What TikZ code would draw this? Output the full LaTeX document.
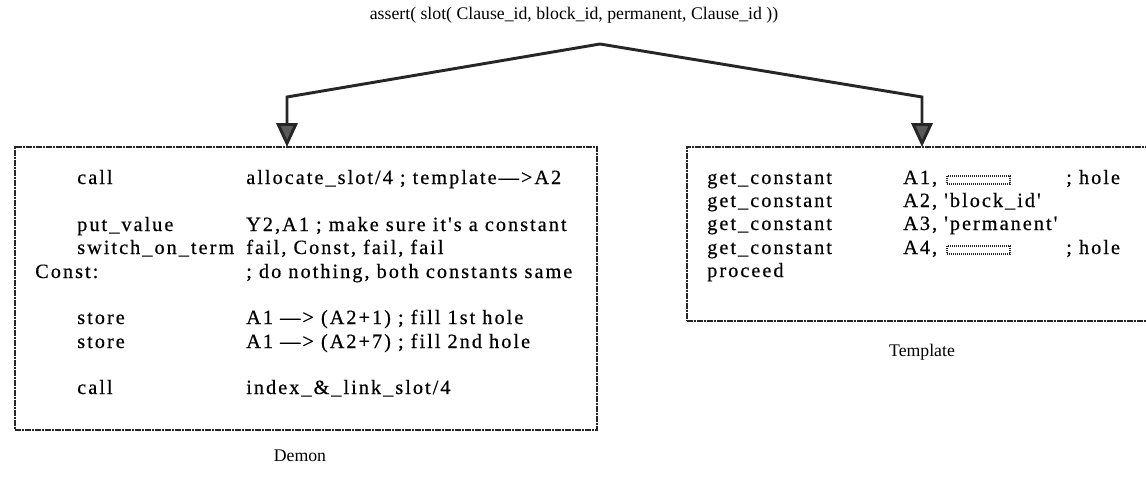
\documentclass[tikz,border=0pt]{standalone}
\usepackage{fontspec}
\setmainfont{Liberation Serif}
\newfontfamily\codefont[LetterSpace=10,FakeBold=0.5]{Liberation Serif}
\usetikzlibrary{arrows.meta}
\tikzset{
	box/.style={draw=black!85, line width=1.5pt, dash pattern=on 2pt off 0.5pt, inner sep=0pt, outer sep=0pt},
	conn/.style={draw=black!85, line width=2.2pt, -{Triangle[width=16pt,length=18pt,fill=black!65]}},
	code/.style={anchor=base west, inner sep=0pt, font=\codefont\fontsize{15.2}{17}\selectfont},
	caption/.style={inner sep=0pt, font=\fontsize{13.3}{15}\selectfont},
	hole/.style={draw=black!85, line width=1.2pt, dash pattern=on 1pt off 0.5pt}
}
\begin{document}
\begin{tikzpicture}[x=0.75pt,y=-0.75pt]
	\useasboundingbox (0,0) rectangle (1146,492);
	\clip (0,0) rectangle (1146,492);
	\node[caption] (assert) at (574,15) {assert( slot( Clause\_id, block\_id, permanent, Clause\_id ))};
	% the two code boxes
	\node[box, minimum width=436.5pt, minimum height=212.25pt] (demon) at (306,288.5) {};
	\node[box, minimum width=348.75pt, minimum height=130.5pt] (template) at (919.5,234) {};
	\node[caption] (demonlbl) at (300,456) {Demon};
	\node[caption] (templatelbl) at (922,352) {Template};
	% connectors
	\coordinate (peak) at (600,44);
	\coordinate (bendL) at (287,97);
	\coordinate (bendR) at (922,97);
	\draw[conn] (peak) -- (bendL) -- (bendL |- demon.north);
	\draw[conn] (peak) -- (bendR) -- (bendR |- template.north);
	% Demon code
	\node[code] (d1a) at (77,184) {call};
	\node[code] (d1b) at (246,184) {allocate\_slot/4 ; template—>A2};
	\node[code] (d2a) at (77,231) {put\_value};
	\node[code] (d2b) at (246,231) {Y2,A1 ; make sure it's a constant};
	\node[code] (d3a) at (77,254) {switch\_on\_term};
	\node[code] (d3b) at (246,254) {fail, Const, fail, fail};
	\node[code] (d4a) at (35,278) {Const:};
	\node[code] (d4b) at (246,278) {; do nothing, both constants same};
	\node[code] (d5a) at (77,324) {store};
	\node[code] (d5b) at (246,324) {A1 —> (A2+1) ; fill 1st hole};
	\node[code] (d6a) at (77,348) {store};
	\node[code] (d6b) at (246,348) {A1 —> (A2+7) ; fill 2nd hole};
	\node[code] (d7a) at (77,394) {call};
	\node[code] (d7b) at (246,394) {index\_\&\_link\_slot/4};
	% Template code
	\node[code] (t1a) at (707,184) {get\_constant};
	\node[code] (t1b) at (903,184) {A1,};
	\draw[hole] (947,176) rectangle (1010,184);
	\node[code] (t1c) at (1066,184) {; hole};
	\node[code] (t2a) at (707,207) {get\_constant};
	\node[code] (t2b) at (903,207) {A2, 'block\_id'};
	\node[code] (t3a) at (707,230) {get\_constant};
	\node[code] (t3b) at (903,230) {A3, 'permanent'};
	\node[code] (t4a) at (707,254) {get\_constant};
	\node[code] (t4b) at (903,254) {A4,};
	\draw[hole] (947,246) rectangle (1010,254);
	\node[code] (t4c) at (1066,254) {; hole};
	\node[code] (t5a) at (707,277) {proceed};
\end{tikzpicture}
\end{document}
